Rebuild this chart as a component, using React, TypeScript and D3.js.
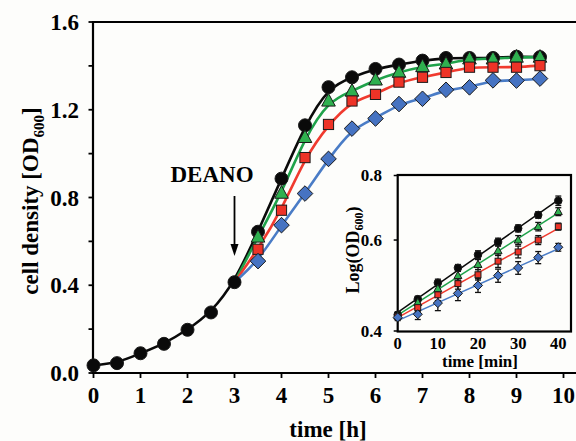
import React from 'react';
import * as d3 from 'd3';

// ---------- main chart data ----------
const timesPre = [0, 0.5, 1, 1.5, 2, 2.5, 3];
const blackPre = [0.035, 0.045, 0.09, 0.133, 0.197, 0.276, 0.414];
const timesPost = [3.5, 4, 4.5, 5, 5.5, 6, 6.5, 7, 7.5, 8, 8.5, 9, 9.5];
const blackPost = [0.644, 0.886, 1.129, 1.303, 1.348, 1.386, 1.406, 1.424, 1.436, 1.436, 1.436, 1.442, 1.44];
const greenPost = [0.62, 0.82, 1.074, 1.24, 1.285, 1.336, 1.371, 1.397, 1.409, 1.432, 1.432, 1.44, 1.44];
const redPost = [0.564, 0.742, 0.982, 1.133, 1.24, 1.27, 1.326, 1.348, 1.37, 1.394, 1.394, 1.394, 1.401];
const bluePost = [0.51, 0.674, 0.818, 0.976, 1.114, 1.16, 1.226, 1.25, 1.291, 1.302, 1.334, 1.333, 1.342];
const xTicks = [0, 1, 2, 3, 4, 5, 6, 7, 8, 9, 10];
const yTicks = [0, 0.4, 0.8, 1.2, 1.6];
const yMinorTicks = [0.2, 0.6, 1.0, 1.4];

// ---------- inset data ----------
const insetTimes = [0, 5, 10, 15, 20, 25, 30, 35, 40];
const insetBlack = [0.43, 0.461, 0.496, 0.53, 0.562, 0.595, 0.632, 0.671, 0.715];
const insetGreen = [0.428, 0.454, 0.483, 0.512, 0.538, 0.572, 0.6, 0.637, 0.681];
const insetRed = [0.427, 0.444, 0.47, 0.494, 0.514, 0.546, 0.569, 0.6, 0.637];
const insetBlue = [0.425, 0.431, 0.453, 0.473, 0.49, 0.512, 0.53, 0.555, 0.581];
const errBlack = [0.006, 0.006, 0.008, 0.008, 0.01, 0.01, 0.01, 0.01, 0.015];
const errGreen = [0.006, 0.008, 0.01, 0.01, 0.012, 0.012, 0.012, 0.012, 0.012];
const errRed = [0.006, 0.008, 0.012, 0.012, 0.012, 0.015, 0.015, 0.012, 0.01];
const errBlue = [0.006, 0.01, 0.015, 0.015, 0.015, 0.015, 0.015, 0.015, 0.01];
const insetXTicks = [0, 10, 20, 30, 40];
const insetYTicks = [0.4, 0.6, 0.8];

const BLACK = '#0a0a0a';
const GREEN = '#2fb04f';
const RED = '#ee3327';
const BLUE = '#4673c2';
const LGREEN = '#1fa24a';
const LRED = '#f03a2e';
const LBLUE = '#4a7cc6';
const FONT = '"Liberation Serif", "Times New Roman", serif';

type Shape = 'circle' | 'triangle' | 'square' | 'diamond';

function Marker({ shape, x, y, r, fill }: { shape: Shape; x: number; y: number; r: number; fill: string }) {
  const stroke = '#1a1a1a';
  if (shape === 'circle') return <circle cx={x} cy={y} r={r} fill={fill} stroke={stroke} strokeWidth={1} />;
  if (shape === 'square')
    return <rect x={x - r * 0.85} y={y - r * 0.85} width={r * 1.7} height={r * 1.7} fill={fill} stroke={stroke} strokeWidth={1} />;
  if (shape === 'diamond') {
    const d = r * 1.2;
    return <path d={`M${x},${y - d}L${x + d},${y}L${x},${y + d}L${x - d},${y}Z`} fill={fill} stroke={stroke} strokeWidth={1} />;
  }
  const s = r * 1.1;
  return <path d={`M${x},${y - s * 1.1}L${x + s},${y + s * 0.75}L${x - s},${y + s * 0.75}Z`} fill={fill} stroke={stroke} strokeWidth={1} />;
}

export default function App() {
  const W = 576, H = 441;
  const x = d3.scaleLinear().domain([0, 10]).range([93.5, 563.5]);
  const y = d3.scaleLinear().domain([0, 1.6]).range([373, 22]);

  const line = d3.line<[number, number]>().x(d => x(d[0])).y(d => y(d[1])).curve(d3.curveBasis);

  const blackPts: [number, number][] = [...timesPre.map((t, i) => [t, blackPre[i]] as [number, number]), ...timesPost.map((t, i) => [t, blackPost[i]] as [number, number])];
  const start: [number, number] = [timesPre[timesPre.length - 1], blackPre[blackPre.length - 1]];
  const mk = (vals: number[]): [number, number][] => [start, ...timesPost.map((t, i) => [t, vals[i]] as [number, number])];

  const series = [
    { pts: blackPts, line: BLACK, fill: BLACK, shape: 'circle' as Shape, r: 6.5 },
    { pts: mk(greenPost), line: LGREEN, fill: GREEN, shape: 'triangle' as Shape, r: 6.2, skipFirst: true },
    { pts: mk(redPost), line: LRED, fill: RED, shape: 'square' as Shape, r: 6, skipFirst: true },
    { pts: mk(bluePost), line: LBLUE, fill: BLUE, shape: 'diamond' as Shape, r: 6.5, skipFirst: true },
  ];

  // inset
  const ix = d3.scaleLinear().domain([0, 40]).range([397.7, 558.3]);
  const iy = d3.scaleLog().domain([0.4, 0.8]).range([331, 175.5]);
  const insetSeries = [
    { vals: insetBlack, err: errBlack, line: BLACK, fill: BLACK, shape: 'circle' as Shape, r: 3.8 },
    { vals: insetGreen, err: errGreen, line: LGREEN, fill: GREEN, shape: 'triangle' as Shape, r: 3.6 },
    { vals: insetRed, err: errRed, line: LRED, fill: RED, shape: 'square' as Shape, r: 3.5 },
    { vals: insetBlue, err: errBlue, line: LBLUE, fill: BLUE, shape: 'diamond' as Shape, r: 3.8 },
  ];
  const fit = (vals: number[]) => {
    const ly = vals.map(v => Math.log10(v));
    const mx = d3.mean(insetTimes)!;
    const my = d3.mean(ly)!;
    const b = d3.sum(insetTimes.map((t, i) => (t - mx) * (ly[i] - my))) / d3.sum(insetTimes.map(t => (t - mx) ** 2));
    const a = my - b * mx;
    return (t: number) => Math.pow(10, a + b * t);
  };

  const insetLeft = ix(0), insetRight = 571, insetTop = 175, insetBottom = 331.5;

  return (
    <svg width={W} height={H} style={{ position: 'absolute', left: 0, top: 0, background: '#fdfdfb' }} fontFamily={FONT}>
      <rect x={0} y={0} width={W} height={H} fill="#fdfdfb" />
      {/* main frame */}
      <path d={`M${x(10.6)},${y(1.6)}H${x(0) - 0.5}V${y(0)}H${x(10.6)}`} fill="none" stroke="#000" strokeWidth={2.2} />
      {/* y ticks */}
      {[...yTicks, ...yMinorTicks].map(v => (
        <line key={'yt' + v} x1={x(0) - 5} x2={x(0)} y1={y(v)} y2={y(v)} stroke="#000" strokeWidth={1.8} />
      ))}
      {yTicks.map(v => (
        <text key={'yl' + v} x={79} y={y(v)} dy="0.35em" textAnchor="end" fontSize={23} fontWeight="bold">{v.toFixed(1)}</text>
      ))}
      {xTicks.map(v => (
        <g key={'xt' + v}>
          <line x1={x(v)} x2={x(v)} y1={y(0)} y2={y(0) + 5} stroke="#000" strokeWidth={1.8} />
          <text x={x(v)} y={403} textAnchor="middle" fontSize={23} fontWeight="bold">{v}</text>
        </g>
      ))}
      <text x={328} y={437} textAnchor="middle" fontSize={23} fontWeight="bold">time [h]</text>
      <text transform={`translate(38,201) rotate(-90)`} textAnchor="middle" fontSize={23} fontWeight="bold">
        cell density [OD<tspan fontSize={15} dy={6}>600</tspan><tspan dy={-6}>]</tspan>
      </text>

      {/* DEANO annotation */}
      <text x={212} y={182} textAnchor="middle" fontSize={23} fontWeight="bold">DEANO</text>
      <line x1={x(3)} x2={x(3)} y1={196} y2={248} stroke="#000" strokeWidth={1.8} />
      <path d={`M${x(3) - 4},${244}L${x(3) + 4},${244}L${x(3)},${256}Z`} fill="#000" />

      {/* curves */}
      {series.map((s, i) => (
        <path key={'c' + i} d={line(s.pts)!} fill="none" stroke={s.line} strokeWidth={2.6} />
      ))}
      {/* markers */}
      {series.map((s, i) => (
        <g key={'m' + i}>
          {s.pts.map((p, j) => (s.skipFirst && j === 0 ? null : (
            <Marker key={j} shape={s.shape} x={x(p[0])} y={y(p[1])} r={s.r} fill={s.fill} />
          )))}
        </g>
      ))}

      {/* inset */}
      <rect x={insetLeft} y={insetTop} width={insetRight - insetLeft} height={insetBottom - insetTop} fill="#fdfdfb" stroke="#000" strokeWidth={2.2} />
      {insetYTicks.map(v => (
        <g key={'iy' + v}>
          <line x1={insetLeft - 4} x2={insetLeft} y1={iy(v)} y2={iy(v)} stroke="#000" strokeWidth={1.5} />
          <text x={382} y={iy(v)} dy="0.35em" textAnchor="end" fontSize={17} fontWeight="bold">{v.toFixed(1)}</text>
        </g>
      ))}
      {insetXTicks.map(v => (
        <text key={'ix' + v} x={ix(v)} y={349} textAnchor="middle" fontSize={16.5} fontWeight="bold">{v}</text>
      ))}
      <text x={480} y={367} textAnchor="middle" fontSize={17} fontWeight="bold">time [min]</text>
      <text transform={`translate(359,250) rotate(-90)`} textAnchor="middle" fontSize={18} fontWeight="bold">
        Log(OD<tspan fontSize={12} dy={4}>600</tspan><tspan dy={-4}>)</tspan>
      </text>
      {insetSeries.map((s, i) => {
        const f = fit(s.vals);
        return <line key={'il' + i} x1={ix(0)} y1={iy(f(0))} x2={ix(40)} y2={iy(f(40))} stroke={s.line} strokeWidth={1.5} />;
      })}
      {insetSeries.map((s, i) => (
        <g key={'ie' + i}>
          {insetTimes.map((t, j) => {
            const cx = ix(t);
            const y1 = iy(s.vals[j] + s.err[j]);
            const y2 = iy(s.vals[j] - s.err[j]);
            return (
              <g key={j}>
                <line x1={cx} x2={cx} y1={y1} y2={y2} stroke="#111" strokeWidth={1.3} />
                <line x1={cx - 3} x2={cx + 3} y1={y1} y2={y1} stroke="#111" strokeWidth={1.3} />
                <line x1={cx - 3} x2={cx + 3} y1={y2} y2={y2} stroke="#111" strokeWidth={1.3} />
              </g>
            );
          })}
        </g>
      ))}
      {insetSeries.map((s, i) => (
        <g key={'im' + i}>
          {insetTimes.map((t, j) => (
            <Marker key={j} shape={s.shape} x={ix(t)} y={iy(s.vals[j])} r={s.r} fill={s.fill} />
          ))}
        </g>
      ))}
    </svg>
  );
}
